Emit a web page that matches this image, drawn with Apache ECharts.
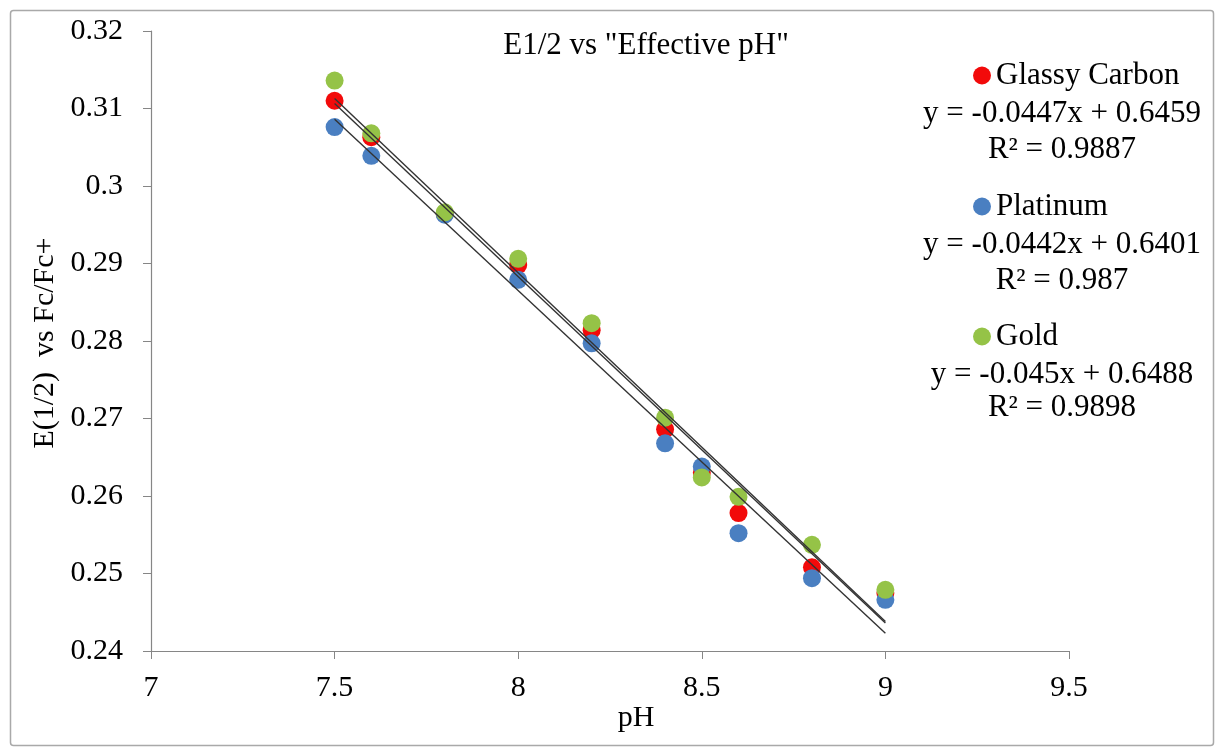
<!DOCTYPE html>
<html>
<head>
<meta charset="utf-8">
<title>E1/2 vs Effective pH</title>
<script src="https://cdn.jsdelivr.net/npm/echarts@6/dist/echarts.min.js"></script>
<style>
  html, body { margin: 0; padding: 0; background: #fff; }
  #chart { width: 1225px; height: 755px; }
</style>
</head>
<body>
<div id="chart"></div>
<script>
// Half-wave potentials measured at each effective pH, per electrode material
const phValues = [7.5, 7.6, 7.8, 8.0, 8.2, 8.4, 8.5, 8.6, 8.8, 9.0];
const glassyCarbon = [0.3110, 0.3063, 0.2964, 0.2898, 0.2814, 0.2686, 0.2630, 0.2578, 0.2508, 0.2475];
const platinum = [0.3076, 0.3039, 0.2963, 0.2879, 0.2797, 0.2668, 0.2638, 0.2552, 0.2494, 0.2466];
const gold = [0.3136, 0.3068, 0.2966, 0.2906, 0.2823, 0.2701, 0.2624, 0.2599, 0.2537, 0.2479];

// Linear fits (y = slope * x + intercept) and their R² values
const seriesNames = ['Glassy Carbon', 'Platinum', 'Gold'];
const slopes = [-0.0447, -0.0442, -0.045];
const intercepts = [0.6459, 0.6401, 0.6488];
const rSquared = ['0.9887', '0.987', '0.9898'];

const xTicks = { min: 7, max: 9.5, interval: 0.5 };
const yTicks = { min: 0.24, max: 0.32, interval: 0.01 };

const colors = ['#F20A0A', '#4A7FC1', '#95C347'];
const font = "'Liberation Serif', 'Times New Roman', serif";
const measured = [glassyCarbon, platinum, gold];

const scatterSeries = measured.map((vals, i) => ({
  name: seriesNames[i],
  type: 'scatter',
  symbol: 'circle',
  symbolSize: 18,
  z: 2 + i,
  itemStyle: { color: colors[i], opacity: 1 },
  data: phValues.map((x, j) => [x, vals[j]])
}));

// Trendlines span the measured pH range
const xFirst = phValues[0];
const xLast = phValues[phValues.length - 1];
const trendSeries = slopes.map((m, i) => ({
  name: seriesNames[i] + ' fit',
  type: 'line',
  showSymbol: false,
  silent: true,
  z: 10,
  lineStyle: { color: '#333333', width: 1.4 },
  data: [[xFirst, m * xFirst + intercepts[i]], [xLast, m * xLast + intercepts[i]]]
}));

const legendTops = [60, 191, 321];
const legends = seriesNames.map((n, i) => ({
  data: [n],
  left: 973,
  top: legendTops[i],
  padding: 0,
  icon: 'circle',
  itemWidth: 18,
  itemHeight: 18,
  selectedMode: false,
  textStyle: { fontFamily: font, fontSize: 31, color: '#000' }
}));

const eqCenterX = 1062;
const eqRows = [[114, 150], [245, 281], [375, 408]];
const eqTexts = [];
slopes.forEach((m, i) => {
  eqTexts.push({
    type: 'text', x: eqCenterX, y: eqRows[i][0], silent: true,
    style: { text: 'y = ' + m + 'x + ' + intercepts[i], font: '31px ' + font,
             fill: '#000', textAlign: 'center', textVerticalAlign: 'middle' }
  });
  eqTexts.push({
    type: 'text', x: eqCenterX, y: eqRows[i][1], silent: true,
    style: { text: 'R² = ' + rSquared[i], font: '31px ' + font,
             fill: '#000', textAlign: 'center', textVerticalAlign: 'middle' }
  });
});

const chart = echarts.init(document.getElementById('chart'), null, { renderer: 'canvas' });
chart.setOption({
  animation: false,
  backgroundColor: '#fff',
  title: {
    text: 'E1/2 vs "Effective pH"',
    left: 646,
    top: 30,
    textAlign: 'center',
    padding: 0,
    textStyle: { fontFamily: font, fontSize: 31, fontWeight: 'normal', color: '#000' }
  },
  legend: legends,
  grid: { left: 151, top: 31, width: 918, height: 620, containLabel: false },
  xAxis: {
    type: 'value',
    min: xTicks.min, max: xTicks.max, interval: xTicks.interval,
    axisLine: { show: true, onZero: false, lineStyle: { color: '#868686', width: 1.2 } },
    axisTick: { show: true, length: 8, lineStyle: { color: '#868686' } },
    splitLine: { show: false },
    axisLabel: { margin: 22, fontFamily: font, fontSize: 30, color: '#000' }
  },
  yAxis: {
    type: 'value',
    min: yTicks.min, max: yTicks.max, interval: yTicks.interval,
    axisLine: { show: true, onZero: false, lineStyle: { color: '#868686', width: 1.2 } },
    axisTick: { show: true, length: 8, lineStyle: { color: '#868686' } },
    splitLine: { show: false },
    axisLabel: { margin: 28, fontFamily: font, fontSize: 30, color: '#000' }
  },
  graphic: [
    {
      type: 'rect', silent: true, z: -10,
      shape: { x: 10.5, y: 10.5, width: 1203, height: 735, r: 3 },
      style: { fill: 'none', stroke: '#a9a9a9', lineWidth: 1.5 }
    },
    {
      type: 'text', x: 636, y: 718, silent: true,
      style: { text: 'pH', font: '30px ' + font, fill: '#000',
               textAlign: 'center', textVerticalAlign: 'middle' }
    },
    {
      type: 'text', x: 45, y: 343, rotation: Math.PI / 2, silent: true,
      style: { text: 'E(1/2)  vs Fc/Fc+', font: '30px ' + font, fill: '#000',
               textAlign: 'center', textVerticalAlign: 'middle' }
    }
  ].concat(eqTexts),
  series: scatterSeries.concat(trendSeries)
});
</script>
</body>
</html>
